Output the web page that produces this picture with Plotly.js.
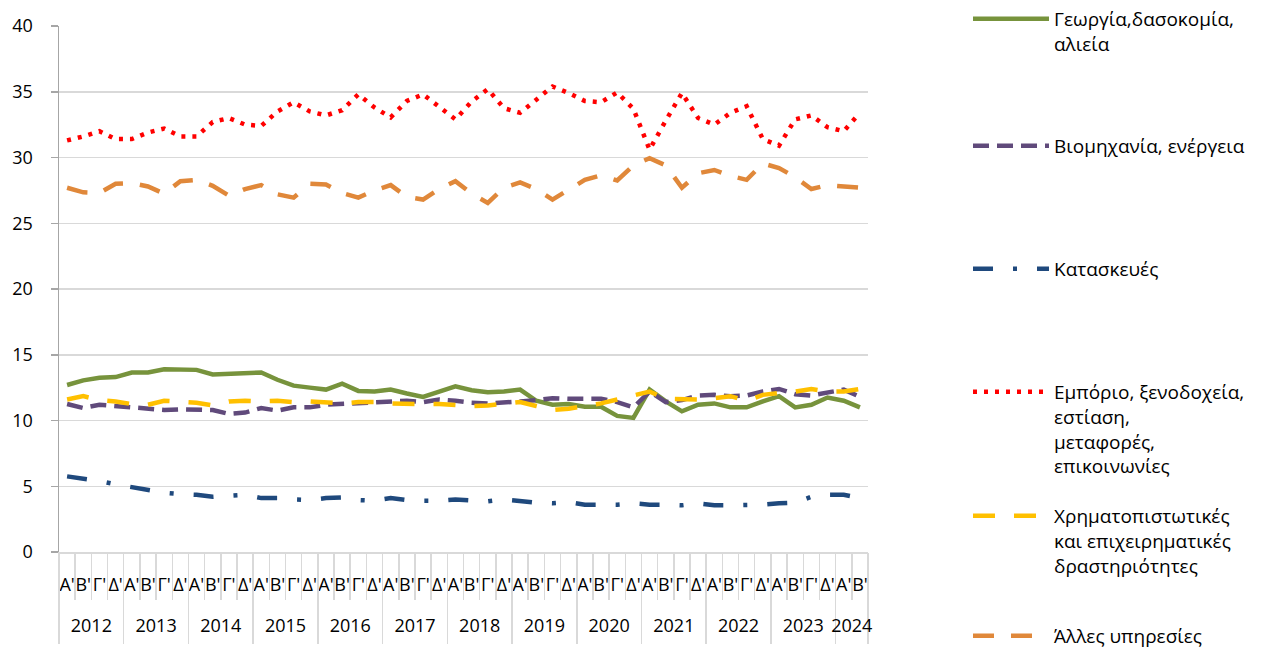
<!DOCTYPE html>
<html>
<head>
<meta charset="utf-8">
<script src="https://cdn.plot.ly/plotly-3.0.1.min.js"></script>
<style>
  html, body { margin: 0; padding: 0; background: #fff; }
  #chart { width: 1279px; height: 650px; }
</style>
</head>
<body>
<div id="chart"></div>
<script>
// Years and quarters (2012 Α' ... 2024 Β')
const yearLabels = ["2012","2013","2014","2015","2016","2017","2018","2019","2020","2021","2022","2023","2024"];
const quarterLabels = ["Α'","Β'","Γ'","Δ'"];
const quartersPerYear = [4,4,4,4,4,4,4,4,4,4,4,4,2];

const seriesNames = [
  "Γεωργία,δασοκομία,<br>αλιεία",
  "Βιομηχανία, ενέργεια",
  "Κατασκευές",
  "Εμπόριο, ξενοδοχεία,<br>εστίαση,<br>μεταφορές,<br>επικοινωνίες",
  "Χρηματοπιστωτικές<br>και επιχειρηματικές<br>δραστηριότητες",
  "Άλλες υπηρεσίες"
];

const agriculture = [12.7,13.05,13.25,13.3,13.65,13.65,13.9,13.85,13.85,13.5,
  13.55,13.6,13.65,13.1,12.65,12.5,12.35,12.8,12.25,12.2,
  12.35,12.05,11.8,12.2,12.6,12.3,12.15,12.2,12.35,11.5,
  11.2,11.25,11.05,11.05,10.35,10.2,12.35,11.45,10.7,11.2,
  11.3,11.0,11.0,11.45,11.85,11.0,11.2,11.75,11.5,11.0];

const industry = [11.25,10.95,11.2,11.1,11.0,10.95,10.8,10.85,10.8,10.8,
  10.5,10.6,10.95,10.75,11.0,11.0,11.2,11.25,11.3,11.35,
  11.45,11.5,11.4,11.6,11.5,11.35,11.3,11.35,11.45,11.55,
  11.7,11.65,11.65,11.65,11.4,11.0,12.2,11.4,11.55,11.9,
  11.95,11.85,11.9,12.2,12.4,12.0,11.9,12.1,12.35,11.8];

const construction = [5.75,5.6,5.4,5.15,4.95,4.7,4.5,4.4,4.35,4.2,
  4.25,4.35,4.1,4.1,4.0,3.95,4.1,4.15,3.95,3.9,
  4.1,3.95,3.9,3.9,4.0,3.9,3.85,4.0,3.85,3.75,
  3.7,3.8,3.6,3.6,3.6,3.7,3.6,3.6,3.55,3.7,
  3.55,3.55,3.55,3.6,3.7,3.75,4.2,4.35,4.35,4.1];

const trade = [31.3,31.6,32.0,31.4,31.4,31.9,32.2,31.6,31.6,32.7,
  33.0,32.5,32.4,33.5,34.2,33.5,33.2,33.6,34.8,33.8,
  33.05,34.3,34.8,33.8,32.9,34.25,35.2,33.75,33.4,34.4,
  35.4,34.9,34.3,34.2,34.95,33.7,30.6,32.8,34.9,33.0,
  32.5,33.4,33.9,31.4,30.9,32.9,33.2,32.3,32.0,33.4];

const finance = [11.6,11.85,11.55,11.45,11.25,11.2,11.5,11.45,11.35,11.15,
  11.45,11.5,11.45,11.5,11.4,11.45,11.4,11.3,11.4,11.4,
  11.3,11.25,11.25,11.25,11.2,11.1,11.15,11.3,11.4,11.1,
  10.8,10.9,11.1,11.3,11.6,11.9,12.2,11.65,11.6,11.6,
  11.7,11.85,11.5,11.95,12.1,12.2,12.4,12.2,12.2,12.4];

const otherServices = [27.7,27.35,27.3,28.0,28.05,27.8,27.25,28.2,28.3,27.85,
  27.1,27.6,27.9,27.2,26.95,28.0,27.95,27.3,26.95,27.5,
  27.9,27.0,26.8,27.6,28.2,27.25,26.55,27.7,28.1,27.6,
  26.8,27.6,28.3,28.65,28.25,29.4,29.95,29.4,27.7,28.8,
  29.05,28.6,28.3,29.55,29.2,28.5,27.6,27.9,27.8,27.7];

// Build unique category keys, quarter tick texts and year groupings
const xCats = [], xQuarterText = [];
const yearCenters = [], yearBounds = [-0.5];
let idx = 0;
yearLabels.forEach((y, yi) => {
  const n = quartersPerYear[yi];
  yearCenters.push(idx + (n - 1) / 2);
  for (let q = 0; q < n; q++) {
    xCats.push(y + " " + quarterLabels[q]);
    xQuarterText.push(quarterLabels[q]);
    idx++;
  }
  yearBounds.push(idx - 0.5);
});

const W = 4.5;
const styles = [
  {color: "#77933C", dash: "solid"},
  {color: "#604A7B", dash: "16px,8px"},
  {color: "#1F497D", dash: "20px,20px,4px,20px"},
  {color: "#FF0000", dash: "4px,7px"},
  {color: "#FFC000", dash: "22px,19px"},
  {color: "#E0883A", dash: "21px,17px"}
];
const values = [agriculture, industry, construction, trade, finance, otherServices];

const traces = values.map((v, i) => ({
  type: "scatter", mode: "lines",
  x: xCats, y: v,
  name: seriesNames[i],
  line: {color: styles[i].color, width: W, dash: styles[i].dash},
  legend: i === 0 ? "legend" : "legend" + (i + 1),
  hoverinfo: "skip"
}));
// empty helper trace so that the year-level axis (xaxis2) is drawn
traces.push({type: "scatter", mode: "lines", x: [], y: [], xaxis: "x2", yaxis: "y",
  showlegend: false, hoverinfo: "skip"});

const legendTopsPx = [0, 127, 250, 373, 497, 617];
const plotL = 58.5, plotR = 868, plotT = 26, plotB = 552.5;
const FONT = "Open Sans, Noto Sans, sans-serif";
const legendFont = {family: FONT, size: 19, color: "#000"};
const GRID = "#d9d9d9";
const layout = {
  width: 1279, height: 650,
  margin: {l: plotL, r: 1279 - plotR, t: plotT, b: 650 - plotB, autoexpand: false},
  paper_bgcolor: "#fff", plot_bgcolor: "#fff",
  font: {family: FONT, size: 18, color: "#000"},
  showlegend: true,
  xaxis: {
    type: "category",
    categoryorder: "array", categoryarray: xCats,
    range: [-0.5, xCats.length - 0.5],
    automargin: false,
    showgrid: false, zeroline: false,
    showline: true, linecolor: GRID, linewidth: 1.5,
    ticks: "outside", ticklen: 46, tickcolor: GRID, tickwidth: 1.5,
    tickson: "boundaries",
    tickmode: "array", tickvals: xCats, ticktext: xQuarterText,
    tickfont: {family: FONT, size: 18, color: "#000"},
    tickangle: 0,
    ticklabelstandoff: 16
  },
  xaxis2: {
    type: "linear",
    overlaying: "x", anchor: "y", side: "bottom",
    range: [-0.5, xCats.length - 0.5], autorange: false,
    automargin: false,
    showgrid: false, zeroline: false, showline: false,
    ticks: "",
    tickmode: "array", tickvals: yearCenters, ticktext: yearLabels,
    tickfont: {family: FONT, size: 18, color: "#000"},
    tickangle: 0,
    ticklabelstandoff: 61,
    minor: {
      tickmode: "array", tickvals: yearBounds,
      ticks: "outside", ticklen: 91, tickcolor: GRID, tickwidth: 1.5,
      showgrid: false
    }
  },
  yaxis: {
    automargin: false,
    range: [0, 40], dtick: 5, tick0: 0,
    showgrid: true, gridcolor: GRID, gridwidth: 1.5,
    zeroline: false,
    showline: true, linecolor: "#a6a6a6", linewidth: 1.5,
    ticks: "outside", ticklen: 7, tickcolor: "#a6a6a6", tickwidth: 1.5,
    tickfont: {family: FONT, size: 18, color: "#000"},
    ticklabelstandoff: 14
  }
};
legendTopsPx.forEach((py, i) => {
  const key = i === 0 ? "legend" : "legend" + (i + 1);
  layout[key] = {
    xref: "container", yref: "container",
    x: 968 / 1279,
    y: 1 - py / 650,
    xanchor: "left", yanchor: "top",
    bgcolor: "rgba(0,0,0,0)", borderwidth: 0,
    font: legendFont, valign: "top",
    itemwidth: 76, itemclick: false, itemdoubleclick: false
  };
});

Plotly.newPlot("chart", traces, layout, {staticPlot: true, displayModeBar: false});
</script>
</body>
</html>
